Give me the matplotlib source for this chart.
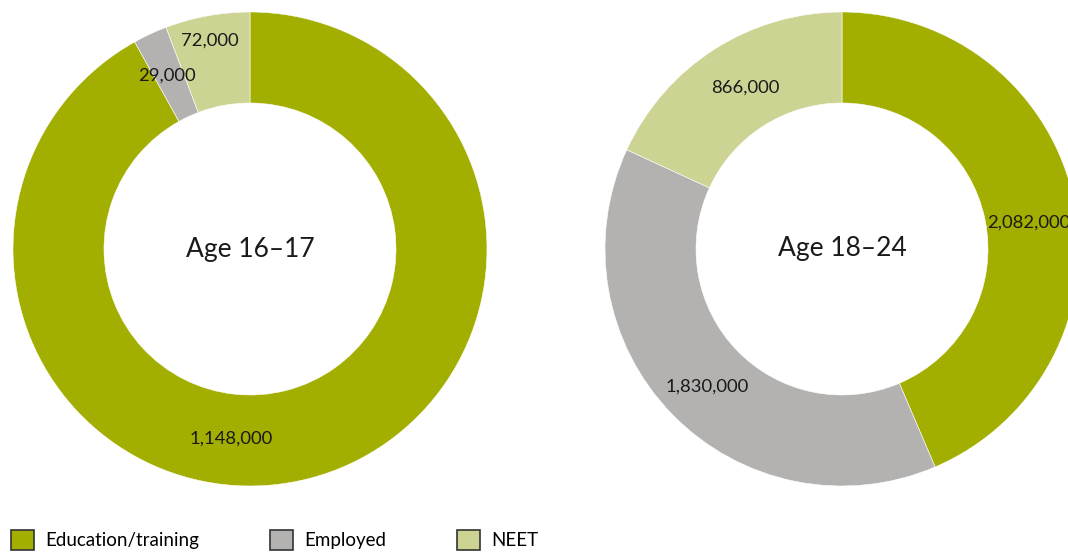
import matplotlib
matplotlib.use("Agg")
from matplotlib import pyplot as plt
from matplotlib.patches import Patch

# data
categories = ["Education/training", "Employed", "NEET"]
age_16_17 = [1148000, 29000, 72000]
age_18_24 = [2082000, 1830000, 866000]
titles = ["Age 16\u201317", "Age 18\u201324"]
colors = ["#a2ae00", "#b3b2b1", "#cdd393"]

# label positions inside the ring (axes data units, radius 1)
label_pos_left = [(-0.08, -0.80), (-0.35, 0.73), (-0.17, 0.88)]
label_pos_right = [(0.79, 0.11), (-0.57, -0.58), (-0.41, 0.68)]

plt.rcParams["font.family"] = ["Lato", "DejaVu Sans"]

W, H = 1068, 552
fig = plt.figure(figsize=(W / 100, H / 100), dpi=100)

R = 237
ring = 1 - 146 / R


def draw_donut(cx, cy, values, title, label_pos):
    ax = fig.add_axes([(cx - R) / W, (H - cy - R) / H, 2 * R / W, 2 * R / H])
    ax.pie(
        values,
        colors=colors,
        startangle=90,
        counterclock=False,
        radius=1,
        wedgeprops=dict(width=ring, edgecolor="white", linewidth=0.4),
    )
    ax.set_xlim(-1, 1)
    ax.set_ylim(-1, 1)
    ax.set_aspect("equal")
    ax.axis("off")
    ax.text(0, 0, title, ha="center", va="center", fontsize=19, color="#1a1a1a")
    for v, (x, y) in zip(values, label_pos):
        ax.text(x, y, f"{v:,}", ha="center", va="center", fontsize=13.3, color="#1a1a1a")
    return ax


draw_donut(250, 249, age_16_17, titles[0], label_pos_left)
draw_donut(842, 249, age_18_24, titles[1], label_pos_right)

handles = [Patch(facecolor=c, edgecolor="#333333", linewidth=1.2) for c in colors]
fig.legend(
    handles,
    categories,
    loc="lower left",
    bbox_to_anchor=(0.0, -0.016),
    ncol=3,
    frameon=False,
    fontsize=13.5,
    handlelength=1.2,
    handleheight=1.2,
    handletextpad=0.6,
    columnspacing=3.8,
    borderaxespad=0.2,
)

fig.savefig("out.png", dpi=100)
